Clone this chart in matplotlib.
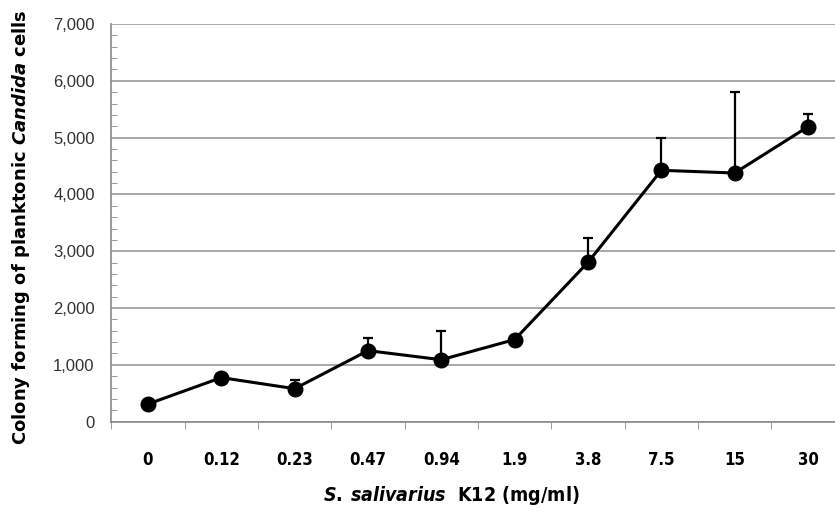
import matplotlib
matplotlib.use("Agg")
import matplotlib.pyplot as plt
import numpy as np
from matplotlib.ticker import MultipleLocator, FuncFormatter

plt.rcParams['font.family'] = ['Liberation Sans', 'DejaVu Sans']
plt.rcParams['mathtext.fontset'] = 'custom'
plt.rcParams['mathtext.rm'] = 'DejaVu Sans:bold:stretch=condensed'
plt.rcParams['mathtext.it'] = 'DejaVu Sans:italic:bold:stretch=condensed'
plt.rcParams['mathtext.bf'] = 'DejaVu Sans:bold'
plt.rcParams['mathtext.bfit'] = 'DejaVu Sans:italic:bold'

# data
doses = ['0', '0.12', '0.23', '0.47', '0.94', '1.9', '3.8', '7.5', '15', '30']
colony = [310, 775, 580, 1250, 1090, 1445, 2805, 4425, 4377, 5192]
err_up = [0, 0, 150, 230, 510, 0, 420, 575, 1430, 230]

fig = plt.figure(figsize=(8.35, 5.08), dpi=100)
ax = fig.add_axes([0.1333, 0.170, 0.8783, 0.7827])

x = np.arange(len(doses))
ax.errorbar(x, colony, yerr=[np.zeros(len(err_up)), err_up], fmt='none',
            ecolor='black', elinewidth=1.6, capsize=3.5, capthick=1.6, zorder=3)
ax.plot(x, colony, color='black', lw=2.2, marker='o', ms=10.5, zorder=4)

ax.set_xlim(-0.5, len(doses) - 0.5)
ax.set_ylim(0, 7000)
ax.yaxis.set_major_locator(MultipleLocator(1000))
ax.yaxis.set_minor_locator(MultipleLocator(200))
ax.yaxis.set_major_formatter(FuncFormatter(lambda v, p: f'{int(v):,}'))
ax.grid(axis='y', which='major', color='#9a9a9a', lw=1.2)
ax.set_axisbelow(True)

ax.set_xticks(x)
ax.set_xticklabels(doses, fontfamily='DejaVu Sans', fontstretch='condensed',
                   fontweight='bold', fontsize=12)
ax.set_xticks(np.arange(-0.5, len(doses), 1), minor=True)
ax.tick_params(axis='x', which='major', length=0, pad=21)
ax.tick_params(axis='x', which='minor', length=5, direction='out', color='#8a8a8a')
ax.tick_params(axis='y', which='major', length=0, pad=12, labelsize=12, labelcolor='#333333')
ax.tick_params(axis='y', which='minor', length=4, direction='in', color='#8a8a8a')

for s in ['top', 'right']:
    ax.spines[s].set_visible(False)
for s in ['left', 'bottom']:
    ax.spines[s].set_color('#8a8a8a')
    ax.spines[s].set_linewidth(1.2)

ax.set_ylabel(r'Colony forming of planktonic $\bfit{Candida}$ cells',
              fontsize=13, fontweight='bold', fontfamily='DejaVu Sans')
ax.yaxis.set_label_coords(-0.108, 0.49)
ax.set_xlabel(r'$\mathit{S.}\:\mathit{salivarius}$  K12 (mg/ml)', fontsize=14,
              fontfamily='DejaVu Sans', fontstretch='condensed', fontweight='bold')
ax.xaxis.set_label_coords(0.463, -0.158)

fig.savefig('out.png', dpi=100)
